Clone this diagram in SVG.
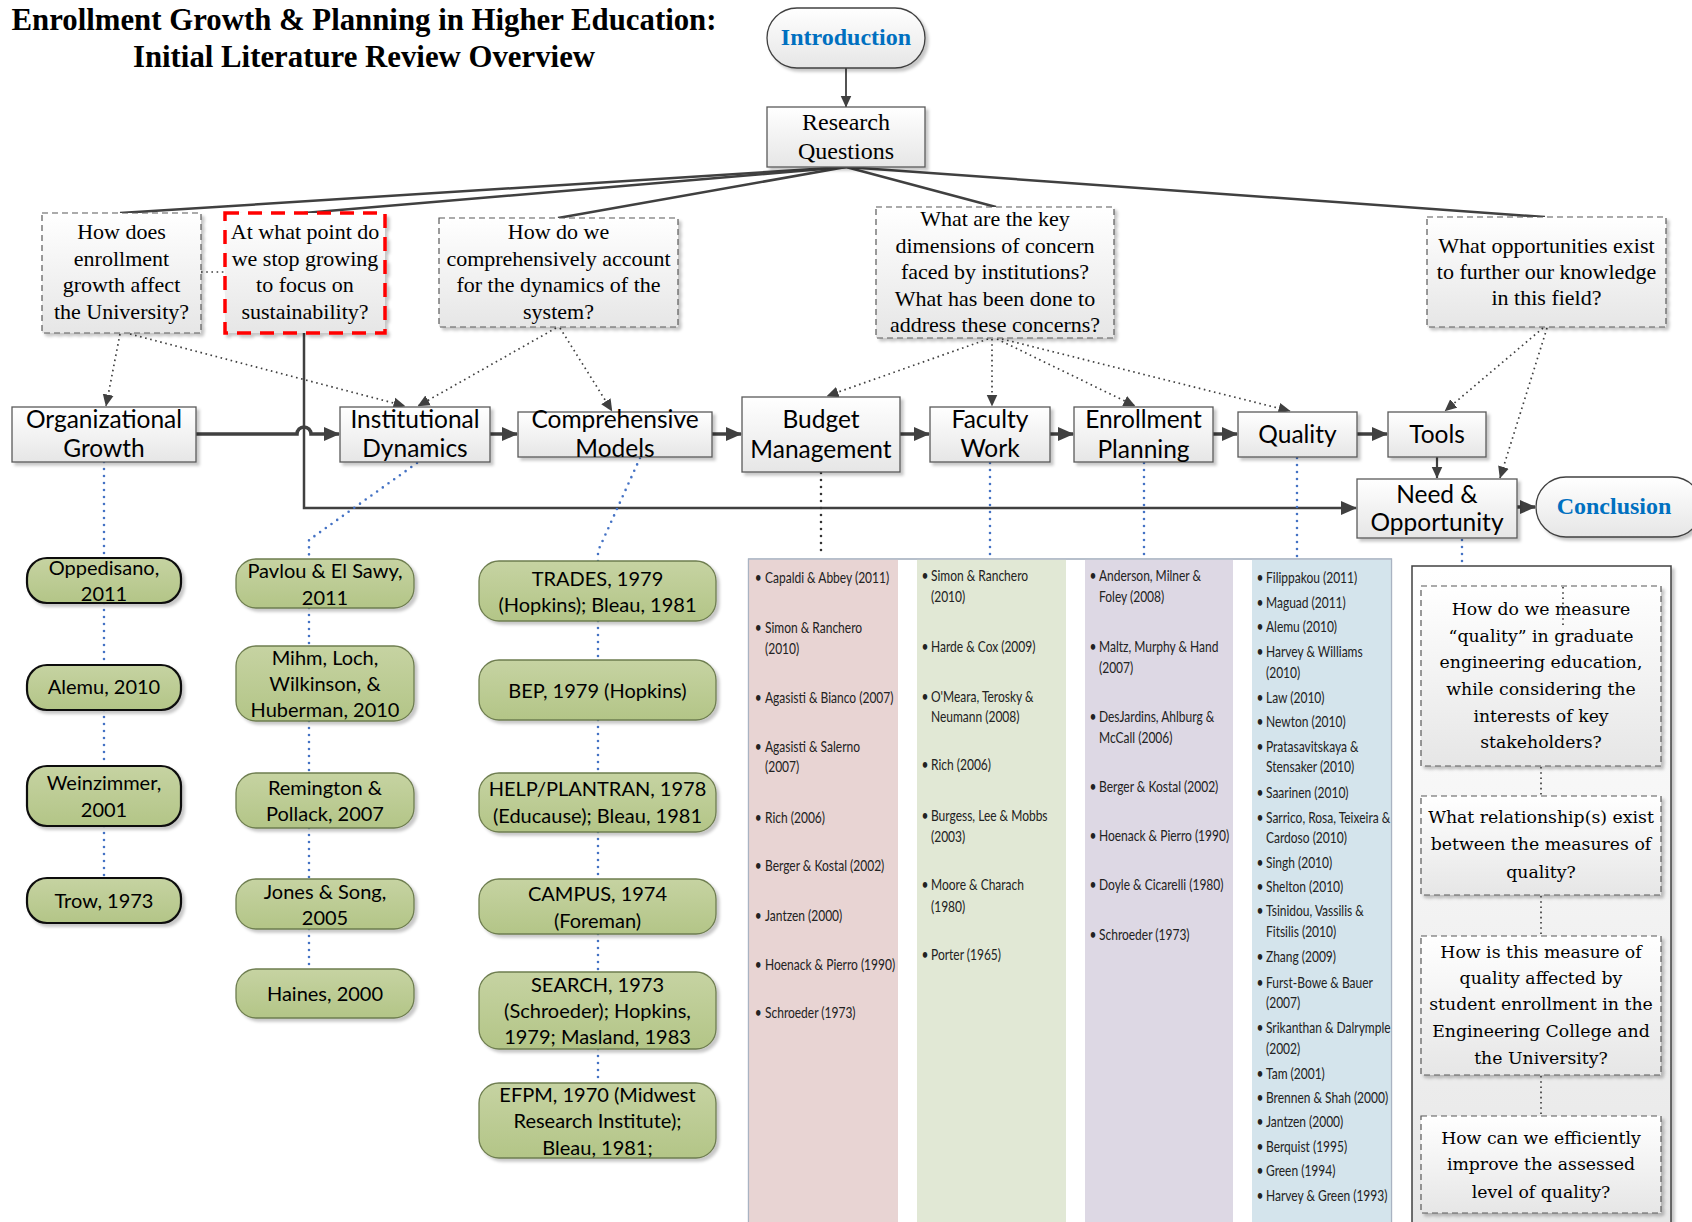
<svg xmlns="http://www.w3.org/2000/svg" width="1692" height="1222" viewBox="0 0 1692 1222">
<defs>
<linearGradient id="gBox" x1="0" y1="0" x2="0" y2="1"><stop offset="0" stop-color="#FFFFFF"/><stop offset="1" stop-color="#E6E6E6"/></linearGradient>
<linearGradient id="gGreen" x1="0" y1="0" x2="0" y2="1"><stop offset="0" stop-color="#C6D3A2"/><stop offset="1" stop-color="#B3C587"/></linearGradient>
<filter id="sh" x="-10%" y="-10%" width="130%" height="140%"><feDropShadow dx="3" dy="3" stdDeviation="1.5" flood-color="#000" flood-opacity="0.22"/></filter>
<marker id="aBig" markerUnits="userSpaceOnUse" markerWidth="16" markerHeight="16" viewBox="0 0 16 16" refX="15" refY="8" orient="auto"><path d="M0,1 L16,8 L0,15 z" fill="#404040"/></marker>
<marker id="aMid" markerUnits="userSpaceOnUse" markerWidth="12" markerHeight="12" viewBox="0 0 12 12" refX="11.5" refY="6" orient="auto"><path d="M0,0.5 L12,6 L0,11.5 z" fill="#404040"/></marker>
<marker id="aSm" markerUnits="userSpaceOnUse" markerWidth="12" markerHeight="12" viewBox="0 0 12 12" refX="11.5" refY="6" orient="auto"><path d="M0,0.5 L12,6 L0,11.5 z" fill="#404040"/></marker>
<style>
.box{fill:url(#gBox);stroke:#595959;stroke-width:1.3;filter:url(#sh)}
.pill{fill:url(#gBox);stroke:#404040;stroke-width:1.3;filter:url(#sh)}
.q{fill:url(#gBox);stroke:#595959;stroke-width:1.2;stroke-dasharray:6 4;filter:url(#sh)}
.qr{fill:url(#gBox);stroke:#FF0000;stroke-width:3.5;stroke-dasharray:14 9;filter:url(#sh)}
.gn{fill:url(#gGreen);stroke:#6E7D50;stroke-width:1.3;filter:url(#sh)}
.gnd{fill:url(#gGreen);stroke:#111;stroke-width:2.2;filter:url(#sh)}
.ser{font-family:"Liberation Serif",serif;font-size:22px;fill:#000;text-anchor:middle;dominant-baseline:central}
.title{font-family:"Liberation Serif",serif;font-size:30.8px;font-weight:bold;fill:#000;text-anchor:middle;dominant-baseline:central}
.blue{font-family:"Liberation Serif",serif;font-size:24px;font-weight:bold;fill:#0070C0;text-anchor:middle;dominant-baseline:central}
.rq{font-family:"Liberation Serif",serif;font-size:24px;fill:#000;text-anchor:middle;dominant-baseline:central}
.mn{font-family:Lato,"Liberation Sans",sans-serif;font-size:24.5px;fill:#000;text-anchor:middle;dominant-baseline:central}
.gt{font-family:Lato,"Liberation Sans",sans-serif;font-size:20px;fill:#000;text-anchor:middle;dominant-baseline:central}
.lst{font-family:Lato,"Liberation Sans",sans-serif;font-size:16px;fill:#222;dominant-baseline:central}
.bul{text-anchor:middle}
.pq{font-family:"DejaVu Serif",serif;font-size:17.3px;fill:#000;text-anchor:middle;dominant-baseline:central}
.ln{fill:none;stroke:#404040;stroke-width:2.5}
.thick{fill:none;stroke:#404040;stroke-width:3.5;marker-end:url(#aBig)}
.dotg{fill:none;stroke:#404040;stroke-width:1.7;stroke-dasharray:1.6 3.6;marker-end:url(#aSm)}
.dotp{fill:none;stroke:#404040;stroke-width:1.7;stroke-dasharray:1.6 3.6}
.dotb{fill:none;stroke:#4472C4;stroke-width:2.6;stroke-dasharray:0 7;stroke-linecap:round}
.dotk{fill:none;stroke:#333;stroke-width:2.6;stroke-dasharray:0 7;stroke-linecap:round}
</style>
</defs>
<rect width="1692" height="1222" fill="#FFFFFF"/>

<g id="title">
<text class="title" x="364" y="20">Enrollment Growth &amp; Planning in Higher Education:</text>
<text class="title" x="364" y="56.5">Initial Literature Review Overview</text>
</g>

<g id="lit-panel">
<rect x="748.5" y="559" width="643" height="680" fill="#FFFFFF" stroke="#A9B3C2" stroke-width="1.2"/>
<rect x="749" y="559.5" width="149" height="680" fill="#E8D4D3"/>
<rect x="917" y="559.5" width="149" height="680" fill="#E1E8D5"/>
<rect x="1085" y="559.5" width="148" height="680" fill="#DDD8E4"/>
<rect x="1252" y="559.5" width="139" height="680" fill="#D4E4EC"/>
<rect x="748.5" y="559" width="643" height="680" fill="none" stroke="#A9B3C2" stroke-width="1.2"/>
</g>

<g id="connectors">
<line class="ln" x1="846" y1="68" x2="846" y2="107" style="stroke-width:1.8;marker-end:url(#aMid)"/>
<line class="ln" x1="846" y1="167" x2="120" y2="213"/>
<line class="ln" x1="846" y1="167" x2="304" y2="213"/>
<line class="ln" x1="846" y1="167" x2="558" y2="218"/>
<line class="ln" x1="846" y1="167" x2="996" y2="207"/>
<line class="ln" x1="846" y1="167" x2="1545" y2="217"/>
<line class="dotp" x1="201" y1="272" x2="225" y2="272"/>
<line class="dotg" x1="120" y1="334" x2="106" y2="406"/>
<line class="dotg" x1="130" y1="334" x2="405" y2="406"/>
<line class="dotg" x1="556" y1="328" x2="418" y2="406"/>
<line class="dotg" x1="560" y1="328" x2="612" y2="411"/>
<line class="dotg" x1="988" y1="339" x2="827" y2="396"/>
<line class="dotg" x1="992" y1="339" x2="992" y2="406"/>
<line class="dotg" x1="997" y1="339" x2="1135" y2="406"/>
<line class="dotg" x1="1002" y1="339" x2="1290" y2="411"/>
<line class="dotg" x1="1543" y1="328" x2="1445" y2="411"/>
<line class="dotg" x1="1547" y1="328" x2="1500" y2="478"/>
<path class="thick" d="M196,434 H297 A7,7 0 0 1 311,434 H339"/>
<line class="thick" x1="490" y1="434" x2="517" y2="434"/>
<line class="thick" x1="712" y1="434" x2="741" y2="434"/>
<line class="thick" x1="900" y1="434" x2="929" y2="434"/>
<line class="thick" x1="1050" y1="434" x2="1073" y2="434"/>
<line class="thick" x1="1213" y1="434" x2="1237" y2="434"/>
<line class="thick" x1="1357" y1="434" x2="1387" y2="434"/>
<line class="ln" x1="1437" y1="457" x2="1437" y2="478" style="stroke-width:2.2;marker-end:url(#aMid)"/>
<line class="thick" x1="1517" y1="507" x2="1535" y2="507"/>
<path class="ln" d="M304,333 V508 H1356" style="stroke-width:2.5;marker-end:url(#aBig)"/>
<path class="dotb" d="M104,462 V558 M104,603 V665 M104,710 V766 M104,826 V878"/>
<path class="dotb" d="M417,463 L309,540 V559 M309,608 V646 M309,721 V773 M309,828 V879 M309,929 V969"/>
<path class="dotb" d="M640,458 L598,551 V561 M598,621 V660 M598,720 V773 M598,832 V879 M598,934 V972 M598,1049 V1083"/>
<path class="dotk" d="M821,473 V557"/>
<path class="dotb" d="M990,463 V557"/>
<path class="dotb" d="M1144,463 V557"/>
<path class="dotb" d="M1297,458 V557"/>
<path class="dotb" d="M1462,540 V564"/>
</g>

<g id="intro"><rect class="pill" x="767" y="8" width="158" height="60" rx="30"/><text class="blue" x="846" y="37">Introduction</text></g>
<g id="rq"><rect class="box" x="767" y="107" width="158" height="60"/><text class="rq" x="846" y="122">Research</text><text class="rq" x="846" y="151">Questions</text></g>

<g id="q1"><rect class="q" x="42" y="213" width="159" height="120"/>
<text class="ser" x="121.5" y="231">How does</text><text class="ser" x="121.5" y="258">enrollment</text><text class="ser" x="121.5" y="284">growth affect</text><text class="ser" x="121.5" y="311">the University?</text></g>
<g id="q2"><rect class="qr" x="225" y="213" width="160" height="120"/>
<text class="ser" x="305" y="231">At what point do</text><text class="ser" x="305" y="258">we stop growing</text><text class="ser" x="305" y="284">to focus on</text><text class="ser" x="305" y="311">sustainability?</text></g>
<g id="q3"><rect class="q" x="439" y="218" width="239" height="109"/>
<text class="ser" x="558.5" y="231">How do we</text><text class="ser" x="558.5" y="258">comprehensively account</text><text class="ser" x="558.5" y="284">for the dynamics of the</text><text class="ser" x="558.5" y="311">system?</text></g>
<g id="q4"><rect class="q" x="876" y="207" width="238" height="131"/>
<text class="ser" x="995" y="218">What are the key</text><text class="ser" x="995" y="245">dimensions of concern</text><text class="ser" x="995" y="271">faced by institutions?</text><text class="ser" x="995" y="298">What has been done to</text><text class="ser" x="995" y="324">address these concerns?</text></g>
<g id="q5"><rect class="q" x="1427" y="217" width="239" height="110"/>
<text class="ser" x="1546.5" y="245">What opportunities exist</text><text class="ser" x="1546.5" y="271">to further our knowledge</text><text class="ser" x="1546.5" y="297">in this field?</text></g>

<g id="org"><rect class="box" x="12" y="407" width="184" height="55"/><text class="mn" x="104" y="418">Organizational</text><text class="mn" x="104" y="447">Growth</text></g>
<g id="inst"><rect class="box" x="340" y="407" width="150" height="55"/><text class="mn" x="415" y="418">Institutional</text><text class="mn" x="415" y="447">Dynamics</text></g>
<g id="comp"><rect class="box" x="518" y="412" width="194" height="45"/><text class="mn" x="615" y="418">Comprehensive</text><text class="mn" x="615" y="447">Models</text></g>
<g id="budget"><rect class="box" x="742" y="397" width="158" height="75"/><text class="mn" x="821" y="418">Budget</text><text class="mn" x="821" y="448">Management</text></g>
<g id="faculty"><rect class="box" x="930" y="407" width="120" height="55"/><text class="mn" x="990" y="418">Faculty</text><text class="mn" x="990" y="447">Work</text></g>
<g id="enroll"><rect class="box" x="1074" y="407" width="139" height="55"/><text class="mn" x="1143.5" y="418">Enrollment</text><text class="mn" x="1143.5" y="448">Planning</text></g>
<g id="quality"><rect class="box" x="1238" y="412" width="119" height="45"/><text class="mn" x="1297.5" y="433">Quality</text></g>
<g id="tools"><rect class="box" x="1388" y="412" width="98" height="45"/><text class="mn" x="1437" y="433">Tools</text></g>
<g id="need"><rect class="box" x="1357" y="479" width="160" height="59"/><text class="mn" x="1437" y="493">Need &amp;</text><text class="mn" x="1437" y="521">Opportunity</text></g>
<g id="conclusion"><rect class="pill" x="1536" y="477" width="166" height="60" rx="30"/><text class="blue" x="1614" y="506">Conclusion</text></g>

<g id="col1">
<g id="n-opp"><rect class="gnd" x="27" y="558" width="154" height="45" rx="20"/><text class="gt" x="104" y="567">Oppedisano,</text><text class="gt" x="104" y="593">2011</text></g>
<g id="n-alemu"><rect class="gnd" x="27" y="665" width="154" height="45" rx="20"/><text class="gt" x="104" y="686">Alemu, 2010</text></g>
<g id="n-weinz"><rect class="gnd" x="27" y="766" width="154" height="60" rx="20"/><text class="gt" x="104" y="782">Weinzimmer,</text><text class="gt" x="104" y="809">2001</text></g>
<g id="n-trow"><rect class="gnd" x="27" y="878" width="154" height="45" rx="20"/><text class="gt" x="104" y="900">Trow, 1973</text></g>
</g>
<g id="col2">
<g id="n-pavlou"><rect class="gn" x="236" y="559" width="178" height="49" rx="20"/><text class="gt" x="325" y="570">Pavlou &amp; El Sawy,</text><text class="gt" x="325" y="597">2011</text></g>
<g id="n-mihm"><rect class="gn" x="236" y="646" width="178" height="75" rx="20"/><text class="gt" x="325" y="657">Mihm, Loch,</text><text class="gt" x="325" y="683">Wilkinson, &amp;</text><text class="gt" x="325" y="709">Huberman, 2010</text></g>
<g id="n-rem"><rect class="gn" x="236" y="773" width="178" height="55" rx="20"/><text class="gt" x="325" y="787">Remington &amp;</text><text class="gt" x="325" y="813">Pollack, 2007</text></g>
<g id="n-jones"><rect class="gn" x="236" y="879" width="178" height="50" rx="20"/><text class="gt" x="325" y="891">Jones &amp; Song,</text><text class="gt" x="325" y="917">2005</text></g>
<g id="n-haines"><rect class="gn" x="236" y="969" width="178" height="49" rx="20"/><text class="gt" x="325" y="993">Haines, 2000</text></g>
</g>
<g id="col3">
<g id="n-trades"><rect class="gn" x="479" y="561" width="237" height="60" rx="20"/><text class="gt" x="597.5" y="578">TRADES, 1979</text><text class="gt" x="597.5" y="604">(Hopkins); Bleau, 1981</text></g>
<g id="n-bep"><rect class="gn" x="479" y="660" width="237" height="60" rx="20"/><text class="gt" x="597.5" y="690">BEP, 1979 (Hopkins)</text></g>
<g id="n-help"><rect class="gn" x="479" y="773" width="237" height="59" rx="20"/><text class="gt" x="597.5" y="788">HELP/PLANTRAN, 1978</text><text class="gt" x="597.5" y="815">(Educause); Bleau, 1981</text></g>
<g id="n-campus"><rect class="gn" x="479" y="879" width="237" height="55" rx="20"/><text class="gt" x="597.5" y="893">CAMPUS, 1974</text><text class="gt" x="597.5" y="920">(Foreman)</text></g>
<g id="n-search"><rect class="gn" x="479" y="972" width="237" height="77" rx="20"/><text class="gt" x="597.5" y="984">SEARCH, 1973</text><text class="gt" x="597.5" y="1010">(Schroeder); Hopkins,</text><text class="gt" x="597.5" y="1036">1979; Masland, 1983</text></g>
<g id="n-efpm"><rect class="gn" x="479" y="1083" width="237" height="75" rx="20"/><text class="gt" x="597.5" y="1094">EFPM, 1970 (Midwest</text><text class="gt" x="597.5" y="1120">Research Institute);</text><text class="gt" x="597.5" y="1147">Bleau, 1981;</text></g>
</g>

<g id="list-budget" class="lst" transform="translate(765 0) scale(0.75 1)">
<text class="bul" x="-9" y="577">•</text><text x="0" y="577">Capaldi &amp; Abbey (2011)</text>
<text class="bul" x="-9" y="627">•</text><text x="0" y="627">Simon &amp; Ranchero</text><text x="0" y="648">(2010)</text>
<text class="bul" x="-9" y="697">•</text><text x="0" y="697">Agasisti &amp; Bianco (2007)</text>
<text class="bul" x="-9" y="746">•</text><text x="0" y="746">Agasisti &amp; Salerno</text><text x="0" y="766">(2007)</text>
<text class="bul" x="-9" y="817">•</text><text x="0" y="817">Rich (2006)</text>
<text class="bul" x="-9" y="865">•</text><text x="0" y="865">Berger &amp; Kostal (2002)</text>
<text class="bul" x="-9" y="915">•</text><text x="0" y="915">Jantzen (2000)</text>
<text class="bul" x="-9" y="964">•</text><text x="0" y="964">Hoenack &amp; Pierro (1990)</text>
<text class="bul" x="-9" y="1012">•</text><text x="0" y="1012">Schroeder (1973)</text>
</g>
<g id="list-faculty" class="lst" transform="translate(931 0) scale(0.75 1)">
<text class="bul" x="-8" y="575">•</text><text x="0" y="575">Simon &amp; Ranchero</text><text x="0" y="596">(2010)</text>
<text class="bul" x="-8" y="646">•</text><text x="0" y="646">Harde &amp; Cox (2009)</text>
<text class="bul" x="-8" y="696">•</text><text x="0" y="696">O'Meara, Terosky &amp;</text><text x="0" y="716">Neumann (2008)</text>
<text class="bul" x="-8" y="764">•</text><text x="0" y="764">Rich (2006)</text>
<text class="bul" x="-8" y="815">•</text><text x="0" y="815">Burgess, Lee &amp; Mobbs</text><text x="0" y="836">(2003)</text>
<text class="bul" x="-8" y="884">•</text><text x="0" y="884">Moore &amp; Charach</text><text x="0" y="906">(1980)</text>
<text class="bul" x="-8" y="954">•</text><text x="0" y="954">Porter (1965)</text>
</g>
<g id="list-enroll" class="lst" transform="translate(1099 0) scale(0.75 1)">
<text class="bul" x="-8" y="575">•</text><text x="0" y="575">Anderson, Milner &amp;</text><text x="0" y="596">Foley (2008)</text>
<text class="bul" x="-8" y="646">•</text><text x="0" y="646">Maltz, Murphy &amp; Hand</text><text x="0" y="667">(2007)</text>
<text class="bul" x="-8" y="716">•</text><text x="0" y="716">DesJardins, Ahlburg &amp;</text><text x="0" y="737">McCall (2006)</text>
<text class="bul" x="-8" y="786">•</text><text x="0" y="786">Berger &amp; Kostal (2002)</text>
<text class="bul" x="-8" y="835">•</text><text x="0" y="835">Hoenack &amp; Pierro (1990)</text>
<text class="bul" x="-8" y="884">•</text><text x="0" y="884">Doyle &amp; Cicarelli (1980)</text>
<text class="bul" x="-8" y="934">•</text><text x="0" y="934">Schroeder (1973)</text>
</g>
<g id="list-quality" class="lst" transform="translate(1266 0) scale(0.75 1)">
<text class="bul" x="-8" y="577">•</text><text x="0" y="577">Filippakou (2011)</text>
<text class="bul" x="-8" y="602">•</text><text x="0" y="602">Maguad (2011)</text>
<text class="bul" x="-8" y="626">•</text><text x="0" y="626">Alemu (2010)</text>
<text class="bul" x="-8" y="651">•</text><text x="0" y="651">Harvey &amp; Williams</text><text x="0" y="672">(2010)</text>
<text class="bul" x="-8" y="697">•</text><text x="0" y="697">Law (2010)</text>
<text class="bul" x="-8" y="721">•</text><text x="0" y="721">Newton (2010)</text>
<text class="bul" x="-8" y="746">•</text><text x="0" y="746">Pratasavitskaya &amp;</text><text x="0" y="766">Stensaker (2010)</text>
<text class="bul" x="-8" y="792">•</text><text x="0" y="792">Saarinen (2010)</text>
<text class="bul" x="-8" y="817">•</text><text x="0" y="817">Sarrico, Rosa, Teixeira &amp;</text><text x="0" y="837">Cardoso (2010)</text>
<text class="bul" x="-8" y="862">•</text><text x="0" y="862">Singh (2010)</text>
<text class="bul" x="-8" y="886">•</text><text x="0" y="886">Shelton (2010)</text>
<text class="bul" x="-8" y="910">•</text><text x="0" y="910">Tsinidou, Vassilis &amp;</text><text x="0" y="931">Fitsilis (2010)</text>
<text class="bul" x="-8" y="956">•</text><text x="0" y="956">Zhang (2009)</text>
<text class="bul" x="-8" y="982">•</text><text x="0" y="982">Furst-Bowe &amp; Bauer</text><text x="0" y="1002">(2007)</text>
<text class="bul" x="-8" y="1027">•</text><text x="0" y="1027">Srikanthan &amp; Dalrymple</text><text x="0" y="1048">(2002)</text>
<text class="bul" x="-8" y="1073">•</text><text x="0" y="1073">Tam (2001)</text>
<text class="bul" x="-8" y="1097">•</text><text x="0" y="1097">Brennen &amp; Shah (2000)</text>
<text class="bul" x="-8" y="1121">•</text><text x="0" y="1121">Jantzen (2000)</text>
<text class="bul" x="-8" y="1146">•</text><text x="0" y="1146">Berquist (1995)</text>
<text class="bul" x="-8" y="1170">•</text><text x="0" y="1170">Green (1994)</text>
<text class="bul" x="-8" y="1195">•</text><text x="0" y="1195">Harvey  &amp; Green (1993)</text>
</g>

<g id="quality-panel">
<rect x="1412" y="566" width="259" height="680" fill="url(#gBox)" stroke="#404040" stroke-width="1.5" filter="url(#sh)"/>
<g id="pq1"><rect class="q" x="1421" y="586" width="240" height="180"/>
<text class="pq" x="1541" y="609">How do we measure</text><text class="pq" x="1541" y="636">“quality” in graduate</text><text class="pq" x="1541" y="662">engineering education,</text><text class="pq" x="1541" y="689">while considering the</text><text class="pq" x="1541" y="716">interests of key</text><text class="pq" x="1541" y="742">stakeholders?</text></g>
<g id="pq2"><rect class="q" x="1421" y="796" width="240" height="99"/>
<text class="pq" x="1541" y="817">What relationship(s) exist</text><text class="pq" x="1541" y="844">between the measures of</text><text class="pq" x="1541" y="872">quality?</text></g>
<g id="pq3"><rect class="q" x="1421" y="936" width="240" height="139"/>
<text class="pq" x="1541" y="952">How is this measure of</text><text class="pq" x="1541" y="978">quality affected by</text><text class="pq" x="1541" y="1004">student enrollment in the</text><text class="pq" x="1541" y="1031">Engineering College and</text><text class="pq" x="1541" y="1058">the University?</text></g>
<g id="pq4"><rect class="q" x="1421" y="1116" width="240" height="97"/>
<text class="pq" x="1541" y="1138">How can we efficiently</text><text class="pq" x="1541" y="1164">improve the assessed</text><text class="pq" x="1541" y="1192">level of quality?</text></g>
<g id="pq-links">
<line class="dotp" x1="1541" y1="767" x2="1541" y2="796"/>
<line class="dotp" x1="1541" y1="896" x2="1541" y2="936"/>
<line class="dotp" x1="1541" y1="1076" x2="1541" y2="1116"/>
<line class="dotp" x1="1563" y1="587" x2="1563" y2="628"/>
</g>
</g>
</svg>
